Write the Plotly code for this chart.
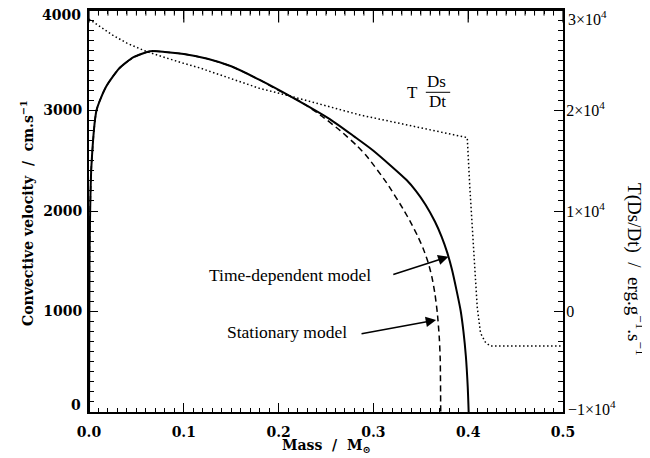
import plotly.graph_objects as go

# Time-dependent model (solid), convective velocity in cm/s
mass_td = [0.0, 0.0005, 0.0025, 0.008, 0.018, 0.032, 0.047, 0.065, 0.08, 0.1, 0.125, 0.15,
           0.18, 0.212, 0.254, 0.28, 0.3, 0.335, 0.345, 0.355, 0.365, 0.372, 0.378, 0.383,
           0.388, 0.392, 0.395, 0.3975, 0.3995, 0.4005]
vel_td = [0, 1500, 2440, 3005, 3237, 3420, 3530, 3590, 3583, 3562, 3515, 3440,
          3305, 3144, 2915, 2740, 2600, 2308, 2198, 2063, 1893, 1743, 1583, 1413,
          1198, 1010, 800, 560, 250, 0]

# Stationary model (dashed)
mass_st = [0.0, 0.0005, 0.0025, 0.008, 0.018, 0.032, 0.047, 0.065, 0.08, 0.1, 0.125, 0.15,
           0.18, 0.2, 0.2228, 0.244, 0.265, 0.2825, 0.293, 0.314, 0.332, 0.34, 0.347,
           0.353, 0.358, 0.362, 0.365, 0.3675, 0.3695, 0.3705, 0.371]
vel_st = [0, 1500, 2440, 3005, 3237, 3420, 3530, 3590, 3583, 3562, 3515, 3440,
          3305, 3200, 3090, 2955, 2800, 2650, 2545, 2280, 2010, 1875, 1745,
          1615, 1480, 1330, 1170, 980, 740, 520, 0]

# T Ds/Dt (dotted, right axis), erg/g/s
mass_tds = [0.0, 0.011, 0.025, 0.04, 0.061, 0.096, 0.117, 0.18, 0.212, 0.286,
            0.397, 0.399, 0.4017, 0.406, 0.4095, 0.413, 0.418, 0.423, 0.5]
tds = [29100, 28400, 27500, 26700, 25850, 24800, 24230, 22200, 21440, 19550,
       17330, 17300, 12390, 5820, 450, -2140, -3035, -3430, -3430]

x_ticks = [0.0, 0.1, 0.2, 0.3, 0.4, 0.5]
y_ticks = [0, 1000, 2000, 3000, 4000]
y_labels = ["0", "1000", "2000", "3000", "4000"]
y2_ticks = [-10000, 0, 10000, 20000, 30000]
y2_labels = ["\u22121\u00d710<sup>4</sup>", "0", "1\u00d710<sup>4</sup>",
             "2\u00d710<sup>4</sup>", "3\u00d710<sup>4</sup>"]

BOLD = dict(family="DejaVu Serif", size=14, color="black", weight="bold")
TIMES = "Liberation Serif"
RFONT = dict(family=TIMES, size=16, color="black")

fig = go.Figure()
fig.add_trace(go.Scatter(x=mass_tds, y=tds, yaxis="y2", mode="lines",
                         line=dict(color="black", width=1.5, dash="1.5px,2.5px"),
                         showlegend=False, hoverinfo="skip"))
fig.add_trace(go.Scatter(x=mass_st, y=vel_st, mode="lines", line_shape="spline",
                         line=dict(color="black", width=1.5, dash="6px,4px", smoothing=0.6),
                         showlegend=False, hoverinfo="skip"))
fig.add_trace(go.Scatter(x=mass_td, y=vel_td, mode="lines", line_shape="spline",
                         line=dict(color="black", width=2, smoothing=0.6),
                         showlegend=False, hoverinfo="skip"))

# top edge of the frame with its inward ticks (drawn at the top of the y range)
top = y_ticks[-1]
minor_x = [i / 100 for i in range(1, 50) if i % 10]
fig.add_trace(go.Scatter(x=[x_ticks[0], x_ticks[-1]], y=[top, top], mode="lines",
                         line=dict(color="black", width=2), cliponaxis=False,
                         showlegend=False, hoverinfo="skip"))
fig.add_trace(go.Scatter(x=x_ticks, y=[top] * len(x_ticks), mode="markers", cliponaxis=True,
                         marker=dict(symbol="line-ns", size=18, color="black",
                                     line=dict(color="black", width=1.2)),
                         showlegend=False, hoverinfo="skip"))
fig.add_trace(go.Scatter(x=minor_x, y=[top] * len(minor_x), mode="markers", cliponaxis=True,
                         marker=dict(symbol="line-ns", size=8, color="black",
                                     line=dict(color="black", width=1)),
                         showlegend=False, hoverinfo="skip"))

# interior tick labels drawn by the axes; end labels (nudged inwards) as annotations
inner_y = ["" if i in (0, len(y_labels) - 1) else t for i, t in enumerate(y_labels)]
inner_y2 = ["" if i in (0, len(y2_labels) - 1) else t for i, t in enumerate(y2_labels)]

fig.update_layout(
    width=642, height=450,
    margin=dict(l=81, r=87, t=2, b=46, autoexpand=False),
    paper_bgcolor="white", plot_bgcolor="white",
    xaxis=dict(range=[0, 0.5], tickvals=x_ticks, tickformat=".1f", automargin=False,
               showline=True, linecolor="black", linewidth=2, mirror="ticks",
               ticks="inside", ticklen=9, tickwidth=1.2, tickcolor="black",
               minor=dict(dtick=0.01, ticks="inside", ticklen=4, tickwidth=1, tickcolor="black"),
               showgrid=False, zeroline=False, tickfont=BOLD, ticklabelstandoff=6),
    yaxis=dict(range=[0, 4000], tickvals=y_ticks, ticktext=inner_y, automargin=False,
               showline=True, linecolor="black", linewidth=2, mirror=False,
               ticks="inside", ticklen=9, tickwidth=1.2, tickcolor="black",
               minor=dict(dtick=100, ticks="inside", ticklen=5, tickwidth=1, tickcolor="black"),
               showgrid=False, zeroline=False, tickfont=BOLD, ticklabelstandoff=2),
    yaxis2=dict(range=[-10000, 30000], overlaying="y", side="right", automargin=False,
                tickvals=y2_ticks, ticktext=inner_y2,
                showline=True, linecolor="black", linewidth=2,
                ticks="inside", ticklen=9, tickwidth=1.2, tickcolor="black",
                minor=dict(dtick=1000, ticks="inside", ticklen=5, tickwidth=1, tickcolor="black"),
                showgrid=False, zeroline=False, tickfont=RFONT, ticklabelstandoff=-2),
)

C = dict(xanchor="center", yanchor="middle", showarrow=False)
annotations = [
    dict(text="<b>Convective velocity  /  cm.s<sup>\u22121</sup></b>", xref="paper", yref="paper",
         x=-0.131, y=0.495, textangle=-90,
         font=dict(family="DejaVu Serif", size=14, color="black"), **C),
    dict(text="T(Ds/Dt)  /  erg.g<sup>\u22121</sup>.s<sup>\u22121</sup>", xref="paper", yref="paper",
         x=1.154, y=0.353, textangle=90,
         font=dict(family=TIMES, size=19, color="black"), **C),
    dict(text="<b>Mass  /  M<sub>\u2299</sub></b>", xref="paper", yref="paper",
         x=0.5, y=-0.0846,
         font=dict(family="DejaVu Serif", size=14, color="black"), **C),
    dict(text="Time-dependent model", x=0.212, y=1363,
         font=dict(family=TIMES, size=17.5, color="black"), **C),
    dict(text="Stationary model", x=0.2088, y=796,
         font=dict(family=TIMES, size=17.5, color="black"), **C),
    dict(text="", x=0.3792, y=1545, ax=0.3194, ay=1363, axref="x", ayref="y",
         showarrow=True, arrowhead=2, arrowsize=1.3, arrowwidth=1.6, arrowcolor="black"),
    dict(text="", x=0.3662, y=915, ax=0.2859, ay=776, axref="x", ayref="y",
         showarrow=True, arrowhead=2, arrowsize=1.3, arrowwidth=1.6, arrowcolor="black"),
    dict(text="T", x=0.3414, y=3184,
         font=dict(family=TIMES, size=17, color="black"), **C),
    dict(text="Ds", x=0.3662, y=3287,
         font=dict(family=TIMES, size=17, color="black"), **C),
    dict(text="Dt", x=0.3678, y=3090,
         font=dict(family=TIMES, size=17, color="black"), **C),
    # end tick labels of the left axis
    dict(text=y_labels[-1], xref="paper", x=0, yref="y", y=y_ticks[-1], xanchor="right",
         yanchor="middle", xshift=-6, yshift=-5, showarrow=False, font=BOLD),
    dict(text=y_labels[0], xref="paper", x=0, yref="y", y=y_ticks[0], xanchor="right",
         yanchor="middle", xshift=-6, yshift=7, showarrow=False, font=BOLD),
    # end tick labels of the right axis
    dict(text=y2_labels[-1], xref="paper", x=1, yref="y2", y=y2_ticks[-1], xanchor="left",
         yanchor="middle", xshift=3, yshift=-8, showarrow=False, font=RFONT),
    dict(text=y2_labels[0], xref="paper", x=1, yref="y2", y=y2_ticks[0], xanchor="left",
         yanchor="middle", xshift=3, yshift=4, showarrow=False, font=RFONT),
]
fig.update_layout(annotations=annotations)
# fraction bar of T Ds/Dt
fig.add_shape(type="line", x0=0.3553, x1=0.381, y0=3181, y1=3181, xref="x", yref="y",
              line=dict(color="black", width=1))

fig.write_html("out.html")
